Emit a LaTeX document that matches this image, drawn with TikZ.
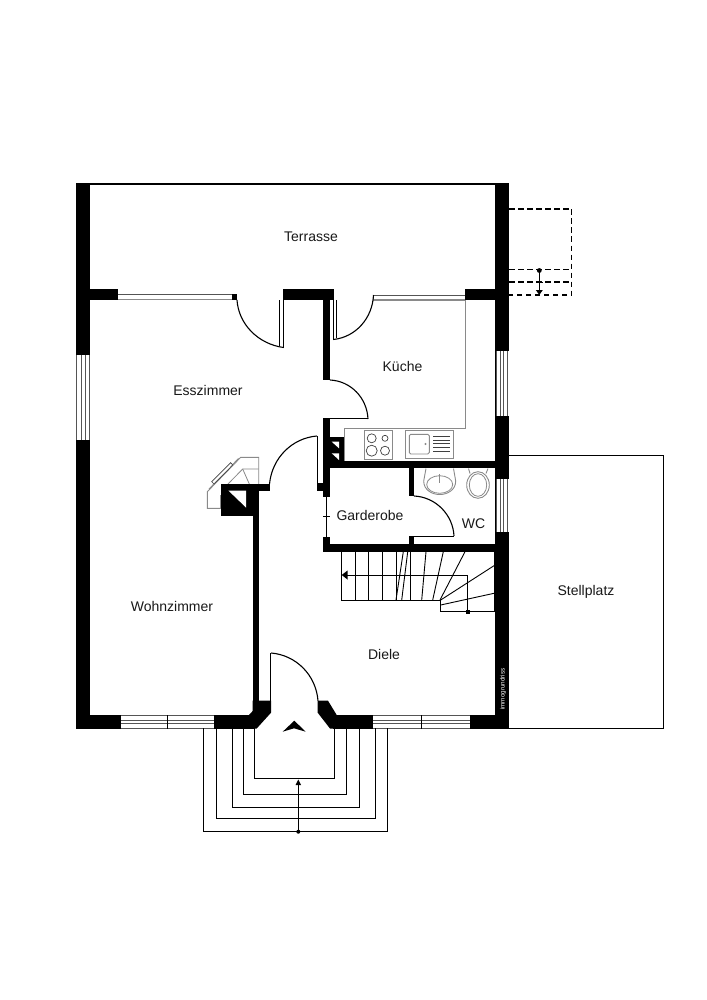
\documentclass[tikz,border=0pt]{standalone}
\usepackage{fontspec}
\setmainfont{Liberation Sans}
\usetikzlibrary{arrows.meta}
\definecolor{fixgray}{HTML}{8A8A8A}
\definecolor{winline}{HTML}{555555}
\tikzset{
  wall/.style={fill=black,draw=none},
  thinline/.style={draw=black,line width=0.9pt},
  doorline/.style={draw=black,line width=1.1pt},
  fixture/.style={draw=fixgray,line width=0.9pt},
  fixturedark/.style={draw=black!75,line width=0.7pt},
  winframe/.style={fill=white,draw=none},
  winstroke/.style={draw=winline,line width=0.8pt},
  roomlabel/.style={font=\fontsize{14}{16}\selectfont,inner sep=0pt,text=black!90},
  dashline/.style={draw=black,line width=1.25pt,dash pattern=on 5.5pt off 3.5pt},
}
\begin{document}
\begin{tikzpicture}[x=1pt,y=-1pt]
\useasboundingbox (0,0) rectangle (706,1000);
\fill[white] (0,0) rectangle (706,1000);

% carport
\draw[thinline] (509,455.5) -- (663,455.5) -- (663,728) -- (509,728);

% dashed structure on the east side
\draw[dashline] (509,209) -- (571.5,209) -- (571.5,295) -- (509,295);
\draw[dashline] (509,269.5) -- (571.5,269.5);
\draw[dashline] (509,282) -- (571.5,282);
\draw[thinline] (539.3,270) -- (539.3,291);
\fill (539.3,270.5) circle (2.4);
\draw[thinline] (536,282) -- (542.5,282);
\fill (535.8,290) -- (542.8,290) -- (539.3,295) -- cycle;

% exterior walls
\fill[wall] (76,183) rectangle (509,185.5);
\fill[wall] (76,183) rectangle (90,728.5);
\fill[wall] (495,183) rectangle (509,728.5);
\fill[wall] (76,715) rectangle (255,728.5);
\fill[wall] (333,715) rectangle (509,728.5);

% terrace wall
\fill[wall] (90,289.3) rectangle (118.3,300);
\fill[wall] (232,294) rectangle (237,300);
\fill[wall] (283,289.3) rectangle (333.5,300);
\fill[wall] (465,289.3) rectangle (495,300);

% terrace doors / windows
\draw[winstroke] (118.3,294.3) -- (232,294.3);
\draw[fixture,line width=1.2pt] (118.3,299.5) -- (232,299.5);
\draw[winstroke] (373,295) -- (465,295);
\draw[fixture,line width=1.2pt] (373,300) -- (465,300);

% interior walls
\fill[wall] (323.3,300) rectangle (330,380);
\fill[wall] (323.3,418) rectangle (330,497);
\fill[wall] (317,483) rectangle (330,491);
\fill[wall] (323.3,537) rectangle (330,551.7);
\fill[wall] (323.3,544.3) rectangle (495,551.7);
\fill[wall] (323.3,461) rectangle (495,468.3);
\fill[wall] (408.7,468) rectangle (414,495.7);
\fill[wall] (408.7,536) rectangle (414,545);
% shaft
\fill[wall] (330,436.7) rectangle (344,461);
\fill[white] (331.7,441.7) -- (339,441.7) -- (339,448.3) -- cycle;
\fill[white] (331.7,453.3) -- (339,453.3) -- (339,460) -- cycle;

% fireplace outline
\draw[fixture] (221.7,508.3) -- (207.3,508.3) -- (207.3,491.7) -- (240.7,457.3) -- (258.7,457.3) -- (258.7,484);
\draw[fixture] (209,489) -- (238.5,458.5);
\draw[fixture,line width=0.8pt] (220,495) -- (220,508);
\draw[fixture,line width=0.8pt] (228,484) -- (242.7,469) -- (258.7,469);
\draw[fixture,line width=0.8pt] (242.7,469) -- (249.3,484);
\draw[fixturedark,fill=white] (211.7,481.7) -- (230.7,462.7) -- (232.7,465) -- (214,484) -- cycle;

% chimney and partition wall
\fill[wall] (221.3,484) rectangle (270,491);
\fill[wall] (221.3,484) rectangle (259.3,516);
\fill[white] (228.3,490.5) -- (246,490.5) -- (246,507.5) -- cycle;
\fill[wall] (252.7,515) rectangle (259.3,702);

% entrance blocks
\fill[wall] (252.7,700.7) -- (271,700.7) -- (271,712.7) -- (256.7,728.5) -- (249,728.5) -- (249,715) -- (252.7,711) -- cycle;
\fill[wall] (317.7,700.7) -- (328,700.7) -- (336.7,715) -- (340,728.5) -- (330,728.5) -- (317.7,712.7) -- cycle;

% doors
\draw[doorline] (237,300) .. controls (238.5,324) and (258,344) .. (283.5,347.5);
\draw[thinline] (279.8,300) -- (279.8,345.8);
\draw[doorline] (283.8,300) -- (283.8,347.8);
\draw[doorline] (373.5,295) .. controls (372.5,318) and (356,337) .. (333.5,339.5);
\draw[thinline] (333.6,300) -- (333.6,339.5);
\draw[thinline] (336.3,300) -- (336.3,338);
\draw[doorline] (330,380) .. controls (351,381) and (367,398) .. (368,419);
\draw[thinline] (330,418.5) -- (368,418.5);
\draw[doorline] (317,436) .. controls (292,438) and (272,458) .. (269.5,484);
\draw[thinline] (317,436) -- (317,484);
\draw[doorline] (414,496) .. controls (436,497) and (453,515) .. (454,536);
\draw[thinline] (414,536) -- (454,536);
\draw[doorline] (271,653) .. controls (296,655) and (316,675) .. (318,700.7);
\draw[thinline] (270.3,653) -- (270.3,701);

% sliding door Garderobe
\draw[thinline] (326.3,497) -- (326.3,537);
\draw[thinline] (323,516.7) -- (330,516.7);

% windows left wall
\fill[winframe] (76,355) rectangle (90,440);
\draw[winstroke] (76.7,355) -- (76.7,440);
\draw[winstroke] (81.7,355) -- (81.7,440);
\draw[winstroke] (85,355) -- (85,440);
\draw[winstroke] (89.3,355) -- (89.3,440);
% windows right wall
\fill[winframe] (496,351) rectangle (509,415.7);
\fill[winframe] (496,479.3) rectangle (509,531.7);
\foreach \wx in {496.7,500,503.3,507.7}{
  \draw[winstroke] (\wx,351) -- (\wx,415.7);
  \draw[winstroke] (\wx,479.3) -- (\wx,531.7);
}
% windows bottom wall
\fill[winframe] (120.7,715) rectangle (214,728.5);
\fill[winframe] (372.7,715) rectangle (470,728.5);
\foreach \wy in {715.3,720,723.3,728.2}{
  \draw[winstroke] (120.7,\wy) -- (214,\wy);
  \draw[winstroke] (372.7,\wy) -- (470,\wy);
}
\draw[thinline] (120.7,715) -- (120.7,728.5);
\draw[thinline] (167,715) -- (167,728.5);
\draw[thinline] (214,715) -- (214,728.5);
\draw[thinline] (372.7,715) -- (372.7,728.5);
\draw[thinline] (421.3,715) -- (421.3,728.5);
\draw[thinline] (470,715) -- (470,728.5);

% kitchen counter
\draw[fixture] (465,300) -- (465,428) -- (344.3,428) -- (344.3,461);
\draw[fixture] (364.3,430.7) rectangle (392.7,459);
\draw[fixturedark] (371.7,438.3) circle (4.5);
\draw[fixturedark] (385,438.3) circle (3);
\draw[fixturedark] (371.7,450.7) circle (5.5);
\draw[fixturedark] (385,450.7) circle (4.5);
\draw[fixture] (405.7,430) rectangle (453.3,458.3);
\draw[fixture,rounded corners=1.5pt] (409.3,434.3) rectangle (429.3,454);
\fill[fixgray] (425.5,444) circle (1.2);
\foreach \ly in {436.7,440.2,443.7,447.4,451.5}{
  \draw[fixturedark,line width=1pt] (433.3,\ly) -- (450,\ly);
}

% WC fixtures
\draw[fixture] (426,468.5) -- (423.7,481) .. controls (423.7,490) and (432,494.5) .. (439.7,494.5) .. controls (447.5,494.5) and (455.7,490) .. (455.7,481) -- (453.5,468.5);
\draw[fixture,line width=0.8pt] (439.7,484.5) ellipse (13 and 8.8);
\draw[fixture,line width=1.2pt] (439.5,474) -- (439.5,483);
\draw[fixture] (478,485) ellipse (11.3 and 13.3);
\draw[fixture,line width=0.8pt] (478,485) ellipse (8.7 and 11.3);
\draw[fixture] (468.5,468.5) -- (470,473.5);
\draw[fixture] (488,468.5) -- (486,473.5);

% stairs
\draw[thinline] (341,551.7) -- (341,600) -- (440.3,600) -- (440.3,611.7) -- (494,611.7) -- (494,551.7);
\foreach \sx in {355,368.7,382.7,396,410.7}{
  \draw[thinline] (\sx,551.7) -- (\sx,600);
}
\draw[thinline] (403.3,551.7) -- (396,600);
\draw[thinline] (407.7,551.7) -- (401.7,600);
\draw[thinline] (426,551.7) -- (421.7,600);
\draw[thinline] (443.3,551.7) -- (432.7,600);
\draw[thinline] (465,551.7) -- (440,600);
\draw[thinline] (494,565.7) -- (440.7,600);
\draw[thinline] (494,593.3) -- (440.7,605);
\draw[thinline] (467.7,611.7) -- (467.7,575) -- (347,575);
\fill (347.5,570.5) -- (347.5,579.5) -- (341.7,575) -- cycle;
\fill (465.5,609.5) rectangle (470,614);

% entrance steps
\draw[thinline] (254.3,728) -- (254.3,778.3) -- (334,778.3) -- (334,728);
\draw[thinline] (243.3,728) -- (243.3,794.3) -- (346.7,794.3) -- (346.7,728);
\draw[thinline] (232,728) -- (232,807.7) -- (359.3,807.7) -- (359.3,728);
\draw[thinline] (216,728) -- (216,818.3) -- (375,818.3) -- (375,728);
\draw[thinline] (203.7,728) -- (203.7,831.7) -- (387.3,831.7) -- (387.3,728);
\draw[thinline] (298.3,831.7) -- (298.3,784);
\fill (298.3,831.7) circle (2);
\fill (295.6,785) -- (301,785) -- (298.3,779.5) -- cycle;
\fill (294.3,720.7) -- (305.7,731.7) -- (294,728.3) -- (282.7,731.7) -- cycle;

% labels
\node[roomlabel] (terrasse) at (311,236.5) {Terrasse};
\node[roomlabel] (esszimmer) at (208,390) {Esszimmer};
\node[roomlabel] (kueche) at (402.5,366.5) {Küche};
\node[roomlabel] (wohnzimmer) at (172,606) {Wohnzimmer};
\node[roomlabel] (garderobe) at (370,515) {Garderobe};
\node[roomlabel] (wc) at (473.5,523.5) {WC};
\node[roomlabel] (diele) at (384,654.5) {Diele};
\node[roomlabel] (stellplatz) at (586,591.5) {Stellplatz};
\node[font=\fontsize{6.3}{7}\selectfont,text=white,rotate=90,inner sep=0pt] (brand) at (503,689) {immogrundriss};
\end{tikzpicture}
\end{document}
